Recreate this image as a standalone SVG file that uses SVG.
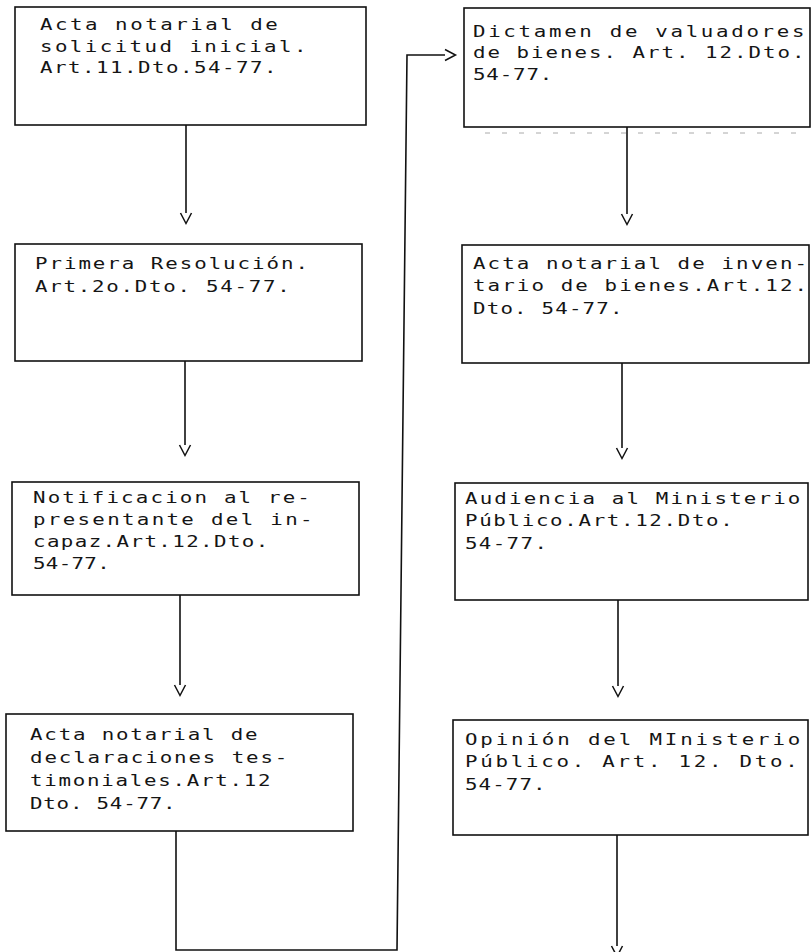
<svg xmlns="http://www.w3.org/2000/svg" width="811" height="952" viewBox="0 0 811 952">
<style>
  .box{fill:#fff;stroke:#111;stroke-width:1.6}
  .t{font-family:"DejaVu Sans Mono","Liberation Mono",monospace;font-size:16px;fill:#151515}
  .c{fill:none;stroke:#111;stroke-width:1.6}
  .scan{fill:none;stroke:#aaa;stroke-width:1;stroke-dasharray:5 12}
</style>
<defs>
  <marker id="v" markerUnits="userSpaceOnUse" markerWidth="14" markerHeight="14" refX="0" refY="7" viewBox="0 0 14 14" orient="auto" overflow="visible">
    <path d="M0,1.5 L10.5,7 L0,12.5" fill="none" stroke="#111" stroke-width="1.5"/>
  </marker>
</defs>
<rect width="811" height="952" fill="#fff"/>

<g id="n1"><rect class="box" x="15" y="7" width="351" height="118"/>
<text class="t" transform="translate(40,30) scale(1.3,1)" textLength="183" lengthAdjust="spacing">Acta notarial de</text>
<text class="t" transform="translate(40,52) scale(1.3,1)" textLength="205" lengthAdjust="spacing">solicitud inicial.</text>
<text class="t" transform="translate(40,73) scale(1.3,1)" textLength="182" lengthAdjust="spacing">Art.11.Dto.54-77.</text></g>

<g id="n2"><rect class="box" x="15" y="244" width="347" height="117"/>
<text class="t" transform="translate(35,269) scale(1.3,1)" textLength="210" lengthAdjust="spacing">Primera Resolución.</text>
<text class="t" transform="translate(35,292) scale(1.3,1)" textLength="196" lengthAdjust="spacing">Art.2o.Dto. 54-77.</text></g>

<g id="n3"><rect class="box" x="12" y="482" width="347" height="113"/>
<text class="t" transform="translate(33,503) scale(1.3,1)" textLength="213" lengthAdjust="spacing">Notificacion al re-</text>
<text class="t" transform="translate(33,525) scale(1.3,1)" textLength="215" lengthAdjust="spacing">presentante del in-</text>
<text class="t" transform="translate(33,547) scale(1.3,1)" textLength="181" lengthAdjust="spacing">capaz.Art.12.Dto.</text>
<text class="t" transform="translate(33,569) scale(1.3,1)" textLength="59" lengthAdjust="spacing">54-77.</text></g>

<g id="n4"><rect class="box" x="6" y="714" width="347" height="117"/>
<text class="t" transform="translate(30,740) scale(1.3,1)" textLength="175" lengthAdjust="spacing">Acta notarial de</text>
<text class="t" transform="translate(30,763) scale(1.3,1)" textLength="198" lengthAdjust="spacing">declaraciones tes-</text>
<text class="t" transform="translate(30,786) scale(1.3,1)" textLength="185" lengthAdjust="spacing">timoniales.Art.12</text>
<text class="t" transform="translate(30,809) scale(1.3,1)" textLength="112" lengthAdjust="spacing">Dto. 54-77.</text></g>

<g id="n5"><rect class="box" x="464" y="8" width="346" height="119"/>
<text class="t" transform="translate(473,37) scale(1.3,1)" textLength="255" lengthAdjust="spacing">Dictamen de valuadores</text>
<text class="t" transform="translate(473,58) scale(1.3,1)" textLength="255" lengthAdjust="spacing">de bienes. Art. 12.Dto.</text>
<text class="t" transform="translate(473,80) scale(1.3,1)" textLength="61" lengthAdjust="spacing">54-77.</text></g>

<g id="n6"><rect class="box" x="462" y="245" width="347" height="118"/>
<text class="t" transform="translate(473,269) scale(1.3,1)" textLength="257" lengthAdjust="spacing">Acta notarial de inven-</text>
<text class="t" transform="translate(473,291) scale(1.3,1)" textLength="257" lengthAdjust="spacing">tario de bienes.Art.12.</text>
<text class="t" transform="translate(473,314) scale(1.3,1)" textLength="115" lengthAdjust="spacing">Dto. 54-77.</text></g>

<g id="n7"><rect class="box" x="455" y="483" width="353" height="117"/>
<text class="t" transform="translate(465,504) scale(1.3,1)" textLength="258" lengthAdjust="spacing">Audiencia al Ministerio</text>
<text class="t" transform="translate(465,526) scale(1.3,1)" textLength="206" lengthAdjust="spacing">Público.Art.12.Dto.</text>
<text class="t" transform="translate(465,549) scale(1.3,1)" textLength="63" lengthAdjust="spacing">54-77.</text></g>

<g id="n8"><rect class="box" x="453" y="720" width="355" height="115"/>
<text class="t" transform="translate(465,745) scale(1.3,1)" textLength="258" lengthAdjust="spacing">Opinión del MInisterio</text>
<text class="t" transform="translate(465,767) scale(1.3,1)" textLength="256" lengthAdjust="spacing">Público. Art. 12. Dto.</text>
<text class="t" transform="translate(465,790) scale(1.3,1)" textLength="62" lengthAdjust="spacing">54-77.</text></g>

<path class="scan" d="M485,133 H805"/>

<g id="connectors">
  <path class="c" d="M186,125 V213" marker-end="url(#v)"/>
  <path class="c" d="M185,361 V445" marker-end="url(#v)"/>
  <path class="c" d="M180,595 V685" marker-end="url(#v)"/>
  <path class="c" d="M176,831 V950 H397 L407,55 H445" marker-end="url(#v)"/>
  <path class="c" d="M627,127 V214" marker-end="url(#v)"/>
  <path class="c" d="M622,363 V448" marker-end="url(#v)"/>
  <path class="c" d="M618,600 V686" marker-end="url(#v)"/>
  <path class="c" d="M617,835 V946" marker-end="url(#v)"/>
</g>
</svg>
